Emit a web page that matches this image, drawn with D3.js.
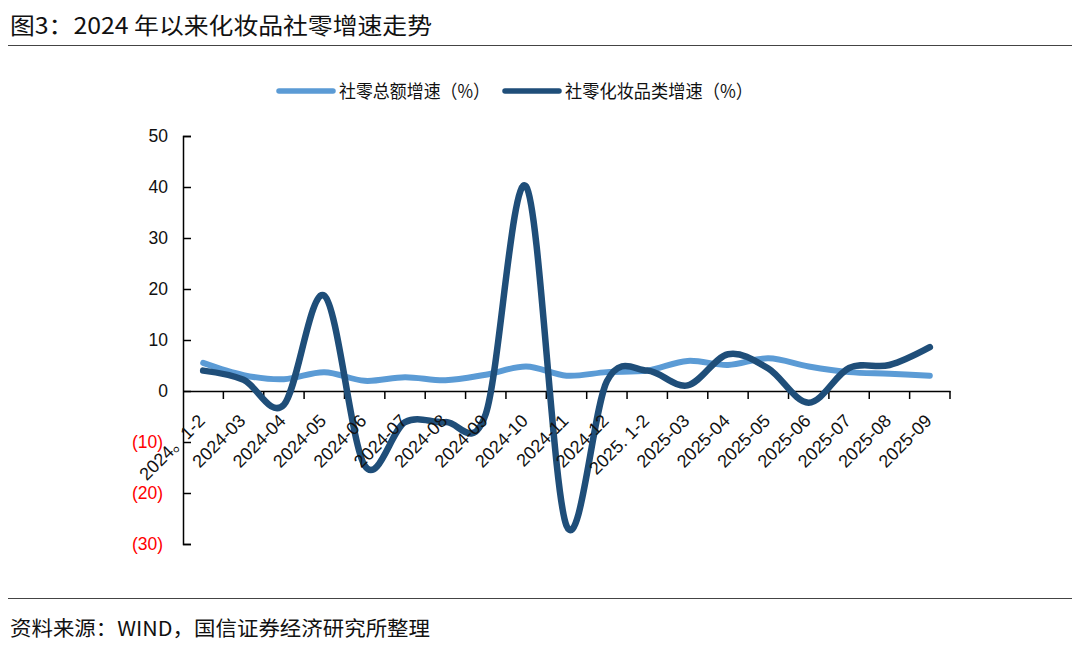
<!DOCTYPE html>
<html><head><meta charset="utf-8">
<script src="https://cdn.jsdelivr.net/npm/d3@7"></script>
<style>
body{margin:0;background:#fff;}
svg{display:block;}
</style></head>
<body>
<svg id="c" width="1080" height="645"></svg>
<script>
const categories = ["2024。1-2","2024-03","2024-04","2024-05","2024-06","2024-07","2024-08","2024-09","2024-10","2024-11","2024-12","2025. 1-2","2025-03","2025-04","2025-05","2025-06","2025-07","2025-08","2025-09"];
const retailTotal = [5.5,3.1,2.3,3.7,2.0,2.7,2.1,3.2,4.8,3.0,3.7,4.0,5.9,5.1,6.4,4.8,3.7,3.4,3.0];
const cosmetics = [4.0,2.2,-2.7,18.7,-14.6,-6.1,-6.1,-4.5,40.1,-26.4,1.9,4.0,1.1,7.2,4.4,-2.3,4.5,5.1,8.6];
const yTicks = [50,40,30,20,10,0,-10,-20,-30];
const seriesNames = ["社零总额增速（%）","社零化妆品类增速（%）"];
const titleText = "图3：2024 年以来化妆品社零增速走势";
const sourceText = "资料来源：WIND，国信证券经济研究所整理";

const svg = d3.select("#c");
const FONT = "'Liberation Sans', Arial, 'Noto Sans CJK SC', sans-serif";
const CJK = "'Noto Sans CJK SC', sans-serif";

// title & rules
svg.append("text").attr("x",10).attr("y",34).attr("font-family",CJK).attr("font-size",22.5)
  .attr("textLength",422).attr("lengthAdjust","spacingAndGlyphs").attr("fill","#111").text(titleText);
svg.append("line").attr("x1",8).attr("x2",1072).attr("y1",45.5).attr("y2",45.5).attr("stroke","#444").attr("stroke-width",1.2);
svg.append("line").attr("x1",8).attr("x2",1072).attr("y1",598.5).attr("y2",598.5).attr("stroke","#444").attr("stroke-width",1.2);
svg.append("text").attr("x",10).attr("y",636).attr("font-family",CJK).attr("font-size",20.5)
  .attr("textLength",420).attr("lengthAdjust","spacingAndGlyphs").attr("fill","#111").text(sourceText);

const x = d3.scaleBand().domain(categories).range([183,950]).padding(0);
const y = d3.scaleLinear().domain([-30,50]).range([544,136]);

// y axis
const yAxis = svg.append("g").attr("transform","translate(183,0)")
  .call(d3.axisRight(y).tickValues(yTicks).tickSize(8).tickFormat(""));
yAxis.select(".domain").attr("stroke","#000").attr("stroke-width",1.5);
yAxis.selectAll(".tick line").attr("stroke","#000").attr("stroke-width",1.5);
svg.append("g").selectAll("text").data(yTicks).join("text")
  .attr("x",d=>d<0?163:168).attr("y",d=>y(d)).attr("dy","0.36em")
  .attr("text-anchor","end").attr("font-family",FONT).attr("font-size",17.5)
  .attr("fill",d=>d<0?"#ff0000":"#111")
  .text(d=>d<0?"("+Math.abs(d)+")":d);

// x axis
const xAxis = svg.append("g").attr("transform",`translate(0,${y(0)})`)
  .call(d3.axisBottom(x).tickSize(0).tickFormat(""));
xAxis.select(".domain").attr("stroke","#000").attr("stroke-width",1.5);
const bounds = categories.map((c,i)=>x(c)).slice(1).concat([950]);
svg.append("g").selectAll("line").data(bounds).join("line")
  .attr("x1",d=>d).attr("x2",d=>d).attr("y1",y(0)).attr("y2",y(0)+8)
  .attr("stroke","#000").attr("stroke-width",1.5);

// lines
const line = d3.line().x((d,i)=>x(categories[i])+x.bandwidth()/2).y(d=>y(d)).curve(d3.curveCatmullRom.alpha(0));
svg.append("path").datum(retailTotal).attr("d",line).attr("fill","none")
  .attr("stroke","#5B9BD5").attr("stroke-width",6).attr("stroke-linecap","round").attr("stroke-linejoin","round");
svg.append("path").datum(cosmetics).attr("d",line).attr("fill","none")
  .attr("stroke","#1F4E79").attr("stroke-width",6.5).attr("stroke-linecap","round").attr("stroke-linejoin","round");

// x labels
svg.append("g").selectAll("text").data(categories).join("text")
  .attr("transform",d=>`translate(${x(d)+x.bandwidth()/2+3},${y(0)+31}) rotate(-45)`)
  .attr("text-anchor","end").attr("font-family",FONT).attr("font-size",18).attr("fill","#111")
  .text(d=>d);

// legend
const leg = [
  {name:seriesNames[0], color:"#5B9BD5", x1:279, x2:333, tx:339, tl:151},
  {name:seriesNames[1], color:"#1F4E79", x1:505, x2:559, tx:565, tl:188}
];
leg.forEach(l=>{
  svg.append("line").attr("x1",l.x1).attr("x2",l.x2).attr("y1",91).attr("y2",91)
    .attr("stroke",l.color).attr("stroke-width",5.5).attr("stroke-linecap","round");
  svg.append("text").attr("x",l.tx).attr("y",98).attr("font-family",CJK).attr("font-size",18.5)
    .attr("textLength",l.tl).attr("lengthAdjust","spacingAndGlyphs").attr("fill","#111").text(l.name);
});
</script>
</body></html>
